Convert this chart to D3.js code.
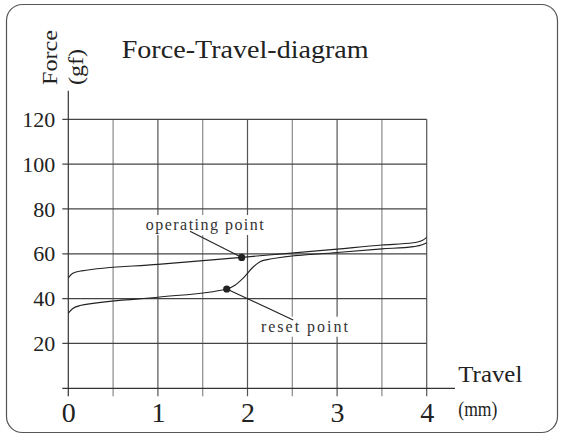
<!DOCTYPE html>
<html>
<head>
<meta charset="utf-8">
<script src="https://cdn.jsdelivr.net/npm/d3@7"></script>
<style>
  body { margin: 0; background: #fff; }
  svg { display: block; }
  text { font-family: "Liberation Serif", "DejaVu Serif", serif; fill: #222; }
</style>
</head>
<body>
<div id="chart"></div>
<script>
// ticks
var xTicks = [0, 1, 2, 3, 4];
var yTicks = [20, 40, 60, 80, 100, 120];
var gridX = [0.5, 1, 1.5, 2, 2.5, 3, 3.5, 4];

// curves: [travel mm, force gf]
var operatingCurve = [[0, 49.3], [0.05, 51.3], [0.15, 52.4], [1, 55.3], [1.935, 58.4],
    [3, 62.1], [3.5, 63.9], [3.85, 64.9], [3.95, 65.9], [4, 67.3]];
var resetCurve = [[0, 33.5], [0.05, 35.6], [0.13, 36.9], [1, 40.6], [1.768, 44.3],
    [1.86, 46], [1.96, 49.5], [2.06, 54], [2.14, 56.5], [2.22, 57.4],
    [3, 60.6], [3.5, 62.2], [3.85, 63.2], [3.95, 64], [4, 64.9]];

var opPoint = [1.935, 58.4];
var resetPoint = [1.768, 44.3];

var svgW = 561, svgH = 436;

var x = d3.scaleLinear().domain([0, 4]).range([68.3, 426.7]);
var y = d3.scaleLinear().domain([0, 120]).range([388.3, 119.3]);

var svg = d3.select("#chart").append("svg")
    .attr("width", svgW)
    .attr("height", svgH);

// frame
svg.append("rect")
    .attr("x", 6.5).attr("y", 4.5)
    .attr("width", 551).attr("height", 428)
    .attr("rx", 16).attr("ry", 16)
    .style("fill", "none")
    .style("stroke", "#555")
    .style("stroke-width", 1.2);

// grid
var grid = svg.append("g");
grid.selectAll("line.v")
    .data(gridX)
    .enter().append("line")
    .attr("class", "v")
    .attr("x1", function(d) { return x(d); })
    .attr("x2", function(d) { return x(d); })
    .attr("y1", y(120))
    .attr("y2", y(0) + 8)
    .style("stroke", function(d) { return d % 1 === 0 ? "#555" : "#8a8a8a"; })
    .style("stroke-width", 1.2);

grid.selectAll("line.h")
    .data(yTicks)
    .enter().append("line")
    .attr("class", "h")
    .attr("x1", x(0) - 6)
    .attr("x2", x(4))
    .attr("y1", function(d) { return y(d); })
    .attr("y2", function(d) { return y(d); })
    .style("stroke", "#444")
    .style("stroke-width", 1.2);

// axes lines
svg.append("line")
    .attr("x1", x(0)).attr("x2", x(0))
    .attr("y1", 90.7).attr("y2", y(0) + 8)
    .style("stroke", "#333").style("stroke-width", 1.2);
svg.append("line")
    .attr("x1", x(0) - 6).attr("x2", 455)
    .attr("y1", y(0)).attr("y2", y(0))
    .style("stroke", "#333").style("stroke-width", 1.2);

// tick labels via axis generators
var yAxis = svg.append("g")
    .attr("transform", "translate(" + x(0) + ",0)")
    .call(d3.axisLeft(y).tickValues(yTicks).tickFormat(d3.format("d")).tickSize(0).tickPadding(13));
yAxis.select(".domain").remove();
yAxis.selectAll("text")
    .style("font-family", "'Liberation Serif', serif")
    .style("font-size", "22px")
    .style("fill", "#222");

var xAxis = svg.append("g")
    .attr("transform", "translate(0," + y(0) + ")")
    .call(d3.axisBottom(x).tickValues(xTicks).tickFormat(d3.format("d")).tickSize(0).tickPadding(13.5));
xAxis.select(".domain").remove();
xAxis.selectAll("text")
    .style("font-family", "'Liberation Serif', serif")
    .style("font-size", "28px")
    .style("fill", "#222");

// curves
var line = d3.line()
    .x(function(d) { return x(d[0]); })
    .y(function(d) { return y(d[1]); })
    .curve(d3.curveMonotoneX);

[operatingCurve, resetCurve].forEach(function(c) {
    svg.append("path")
        .attr("d", line(c))
        .style("fill", "none")
        .style("stroke", "#222")
        .style("stroke-width", 1.1);
});

// annotations (anchor positions in data units)
var notes = [
    { text: "operating point", tx: 0.864, ty: 70.6, len: 118, lx: 1.358, ly: 70.1, pt: opPoint },
    { text: "reset point", tx: 2.15, ty: 25.25, len: 87, lx: 2.51, ly: 30.5, pt: resetPoint }
];

notes.forEach(function(n) {
    svg.append("rect")
        .attr("x", x(n.tx) - 5)
        .attr("y", y(n.ty) - 15)
        .attr("width", n.len + 10)
        .attr("height", 20)
        .style("fill", "#fff");
});

notes.forEach(function(n) {
    svg.append("text")
        .attr("x", x(n.tx))
        .attr("y", y(n.ty))
        .attr("textLength", n.len)
        .attr("lengthAdjust", "spacing")
        .style("font-size", "16px")
        .style("fill", "#333")
        .text(n.text);
    svg.append("line")
        .attr("x1", x(n.lx)).attr("y1", y(n.ly))
        .attr("x2", x(n.pt[0])).attr("y2", y(n.pt[1]))
        .style("stroke", "#222")
        .style("stroke-width", 1.1);
    svg.append("circle")
        .attr("cx", x(n.pt[0]))
        .attr("cy", y(n.pt[1]))
        .attr("r", 3.6)
        .style("fill", "#222");
});

// titles
svg.append("text")
    .attr("x", 121.7).attr("y", 58.3)
    .attr("textLength", 247)
    .attr("lengthAdjust", "spacingAndGlyphs")
    .style("font-size", "25px")
    .text("Force-Travel-diagram");

svg.append("text")
    .attr("transform", "translate(57,85) rotate(-90)")
    .attr("textLength", 55)
    .attr("lengthAdjust", "spacingAndGlyphs")
    .style("font-size", "20px")
    .text("Force");
svg.append("text")
    .attr("transform", "translate(82.5,85) rotate(-90)")
    .attr("textLength", 36)
    .attr("lengthAdjust", "spacingAndGlyphs")
    .style("font-size", "20px")
    .text("(gf)");

svg.append("text")
    .attr("x", 458.3).attr("y", 381.7)
    .attr("textLength", 64)
    .attr("lengthAdjust", "spacingAndGlyphs")
    .style("font-size", "23px")
    .text("Travel");
svg.append("text")
    .attr("x", 458.3).attr("y", 416)
    .attr("textLength", 39)
    .attr("lengthAdjust", "spacingAndGlyphs")
    .style("font-size", "21px")
    .text("(mm)");
</script>
</body>
</html>
